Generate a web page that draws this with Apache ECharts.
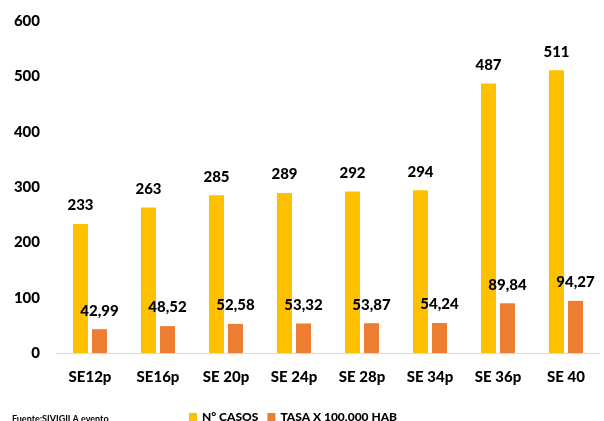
<!DOCTYPE html>
<html><head><meta charset="utf-8">
<script src="https://cdn.jsdelivr.net/npm/echarts@6/dist/echarts.min.js"></script>
<style>html,body{margin:0;padding:0;background:#fff}#c{width:604px;height:421px}</style>
</head><body><div id="c"></div>
<script>
const categories = ['SE12p','SE16p','SE 20p','SE 24p','SE 28p','SE 34p','SE 36p','SE 40'];
const casos = [233,263,285,289,292,294,487,511];
const tasa = [42.99,48.52,52.58,53.32,53.87,54.24,89.84,94.27];
const yTicks = [0,100,200,300,400,500,600];
const font = 'Lato, "Open Sans", sans-serif';
const chart = echarts.init(document.getElementById('c'));
chart.setOption({
  animation:false,
  textStyle:{fontFamily:font},
  grid:{left:56,right:4,top:21,bottom:68},
  legend:{itemWidth:8,itemHeight:8,itemGap:9,icon:'rect',
    textStyle:{fontFamily:font,fontWeight:900,fontSize:12,color:'#000'},
    data:['N° CASOS','TASA X 100.000 HAB'], left:184, top:406},
  graphic:[{type:'text',left:12,top:415,style:{text:'Fuente:SIVIGILA evento',font:'bold 9px '+font,fill:'#000'}}],
  xAxis:{type:'category',data:categories,axisTick:{show:false},
    axisLine:{lineStyle:{color:'#d9d9d9',width:1}},
    axisLabel:{fontFamily:font,fontWeight:900,fontSize:15,color:'#000',margin:17}},
  yAxis:{type:'value',min:0,max:600,interval:100,splitLine:{show:false},
    axisLabel:{fontFamily:font,fontWeight:900,fontSize:15,color:'#000',margin:16,
      formatter:v=>yTicks.includes(v)?String(v):''}},
  series:[
    {name:'N° CASOS',type:'bar',data:casos,barWidth:15,barGap:'27%',itemStyle:{color:'#FFC000'},
      label:{show:true,position:'top',distance:11,fontFamily:font,fontWeight:900,fontSize:15,color:'#000'}},
    {name:'TASA X 100.000 HAB',type:'bar',data:tasa,barWidth:15,itemStyle:{color:'#ED7D31'},
      label:{show:true,position:'top',distance:11,fontFamily:font,fontWeight:900,fontSize:15,color:'#000',
        formatter:p=>p.value.toFixed(2).replace('.',',')}}
  ]
});
</script></body></html>
